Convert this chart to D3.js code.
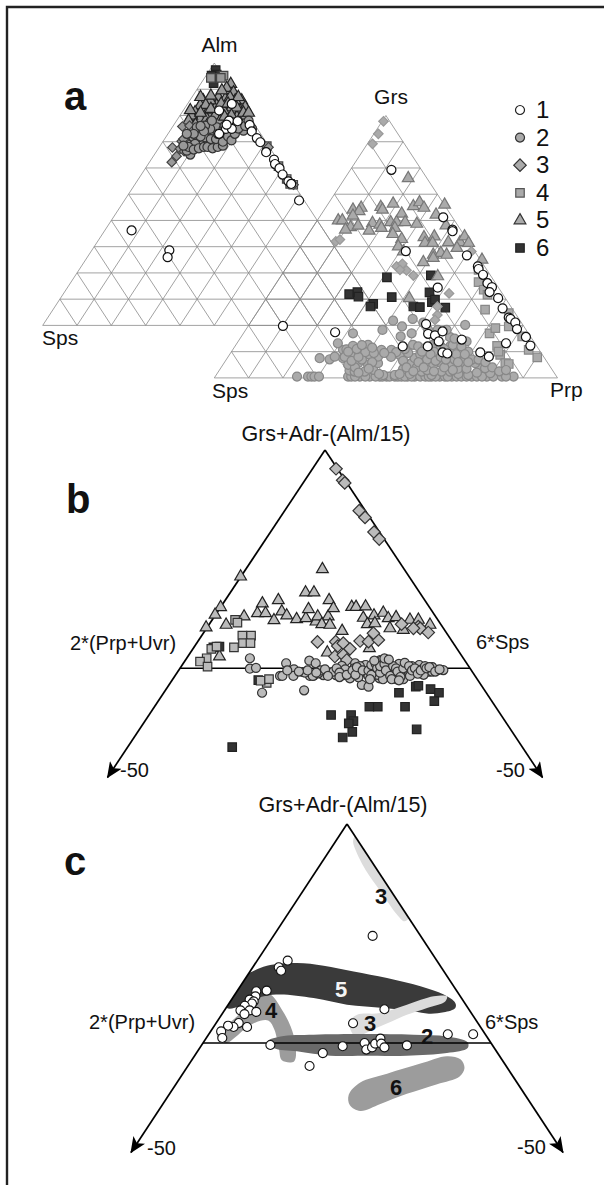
<!DOCTYPE html>
<html>
<head>
<meta charset="utf-8">
<script src="https://cdn.jsdelivr.net/npm/d3@7"></script>
<style>
	html, body { margin: 0; padding: 0; background: #fff; }
	svg { display: block; }
	text { font-family: "Liberation Sans", Arial, sans-serif; fill: #111; }
</style>
</head>
<body>
<div class="chart"></div>
<script>
// every point is [u, v]: v is the top component, u the position along the base (both 0-100)
var gridTicks = [10, 20, 30, 40, 50, 60, 70, 80, 90];
var legendLabels = ['1', '2', '3', '4', '5', '6'];

// panel a, Alm triangle
var almS1 = [[51.4,81.9],[55.1,84.4],[54.3,78],[56.8,77.8],[53.4,74.9],[55.1,74.9],[51.4,73],[53.6,76.5],[60.3,76.4],[60.9,73.9],[62.4,71.4],[63.4,69.8],[65.1,66],[67.4,63.2],[67.7,61.5],[69,59.9],[69.9,57.5],[71.6,54.9],[72.4,53.9],[74.7,47.6],[25.9,36.2],[36.9,28.6],[36.4,26]];
var almS2 = [[43,65.1],[42,66.6],[44.9,75.5],[43.9,71.7],[45.9,69.2],[46.8,70.4],[48.3,69.2],[49.3,69.8],[46.4,73],[47.8,73.6],[49.8,72.3],[51.7,69.2],[50.7,75.5],[48.8,74.9],[45.4,71.7],[47.3,76.1],[49.3,78],[52.2,72.3],[53.6,71.1],[51.2,71.1],[52.7,74.9],[54.6,73.6],[55.6,77.4],[58,74.9],[58.5,74.2],[47.3,71.7],[44.4,69.2],[50.5,69.5],
	[42.5,68],[44,67],[45.5,67.5],[47,68],[48,68],[49.5,67.5],[51,68],[52.5,68.5],[46,72],[49,71],[50.5,71],[52.5,70],[54,72],[55,70.5],[56,73],[57,75],[59,76],[60,78],[61,75],[47,74],[51,73],[53,76],[46,76],[44,73],[42,73],[41,68.5]];
var almS3 = [[40.7,75.8],[42.8,76.1],[37.6,62.2],[37.8,67.8],[40.5,70.2],[42,71.7],[40,67.3],[41.2,66.4],[44.9,73.6],[43.9,69.2],[73.1,53.6],[65.8,67.9],[39,64.5],[43,72],[41,71],[44,74.5]];
var almS4 = [[52.7,95.2],[51.9,94.3],[49,94.3],[65.3,68.3],[72.1,53.9],[68.7,60.7],[71.1,55.8],[73,53.6]];
var almS5 = [[54.8,92],[53.6,90.5],[55.6,88.8],[51.2,86.9],[53.2,86.3],[58,85.7],[56.1,85.7],[46.8,85.7],[50.7,83.8],[45.9,83.8],[44.4,81.2],[48.3,81.9],[50.2,79.9],[43.9,79.3],[45.9,78.7],[57.5,81.9],[59,79.9],[55.1,83.1],[52.7,81.9],[47.8,78.7],[52.2,89.5],[54.6,86.9],[59,83.1],[43.4,79.9],[48.8,85.7],[51.7,78],[56.6,79.3],
	[46,87],[47.5,84],[43,82],[42.5,78],[49,87.5],[52,84.5],[54,84.5],[56.5,83],[57,87],[58.5,81],[60,81],[55,80],[53,79.5],[49,82.5],[46,81],[48,76.5],[44.5,76.5]];
var almS6 = [[50.4,97.3],[49.8,94.3],[50.7,95.6],[49.8,92.3],[49.2,95.2]];

// panel a, Grs triangle
var grsS1 = [[51.6,79.3],[66.7,61.2],[69.4,56.5],[69.4,55.9],[55.8,48.3],[73.6,46.7],[76.8,42.5],[77,41.5],[78.3,39.3],[79.6,36.1],[80.9,34.6],[80.2,32.7],[82.7,30.4],[84,26.5],[85.8,23],[86.3,22.5],[87.7,21.1],[88.2,18.6],[90.8,15.6],[92.1,12.3],[85,13.2],[77.5,9.7],[80,8.1],[65.1,34.4],[61.7,20.5],[62.3,16.8],[64.3,16.2],[66.5,17.7],[65.4,13.9],[62.2,12],[72.1,14.6],[66.5,9.7],[67.9,9.3],[54.9,12],[35.2,17.4],[20,19.8]];
var grsS2 = [[24.1,0.5],[27.3,0.5],[28.3,0.5],[29.2,0.5],[30.5,0.5],[39,0.5],[39.9,0.5],[42.4,0.5],[45.3,0.5],[48.2,0.5],[50.2,0.5],[51.1,0.5],[52.6,0.5],[56.3,0.5],[58.4,0.5],[63.3,0.5],[65.7,0.5],[67.2,0.5],[69.2,0.5],[70.6,0.5],[75,0.5],[79.4,0.5],[81.3,0.5],[83.8,0.5],[87.2,0.5],
	[41,0.5],[44,0.5],[47,0.5],[49,0.5],[53.5,0.5],[54.5,0.5],[55.5,0.5],[57.5,0.5],[60,0.5],[61.5,0.5],[62.5,0.5],[64.5,0.5],[68,0.5],[72,0.5],[73.5,0.5],[76.5,0.5],[78,0.5],[85,0.5],
	[39.4,2.8],[40.9,2.4],[43.8,2.4],[46.3,3.1],[49.2,1.1],[52.6,1.1],[55,3.3],[60.4,2.4],[63.3,1.1],[66.2,2.4],[68.7,2.4],[71.1,1.5],[74,1.1],
	[37.5,7.5],[39,5],[41.9,5.6],[44.8,5],[47.7,5.6],[57.5,5.6],[60.4,6.2],[63.8,5],[66.2,5.6],[69.2,5],[72.1,4.3],[77.4,3.7],[80.4,1.8],
	[30.7,7.5],[33.6,7.1],[35.1,8.1],[37.5,10.7],[39.9,8.8],[42.4,9.4],[45.3,8.8],[47.7,8.1],[50.6,9.4],[54,8.8],[58.4,7.5],[61.4,8.1],[65.3,7.5],[68.7,8.8],[72.6,7.5],[76,5.6],[78.9,3.7],
	[36,13.2],[38.5,10.9],[40.4,12.2],[44.8,12.6],[48.7,10.7],[51.6,10.7],[57.9,12.6],[59.4,12],[61.4,11.3],[63.8,12.6],[68.7,12],[70.1,11.3],[73.5,13.9],[74,10],
	[52.1,21.8],[54.7,19.6],[57.8,22.5],[60.9,21.1],[49,18.3],[40.4,17],[54.3,15.8],[57.5,17],[65.1,18.3],[73.1,20.2],[68.7,15.5],[62.3,18.3],[67.7,18.3],
	[41,4],[43,7],[46,6],[55,6.5],[57,1.5],[59,4],[62,3],[64,2.5],[65,9],[67,4],[68,9.5],[70,7],[71,3.5],[44,9.8],[38,8],[42,2],[48,1.5],[53,9.8],[60,9],[62,7],[70,10],[72,9.5],[75,7],[66,12],[64,10],
	[40,6.5],[42,8],[45,3.5],[46.5,9.5],[51.5,8],[54,1.5],[56,4],[56.5,9.5],[58,2.5],[59.5,6],[61,4],[63,9],[64.5,6.5],[66,8],[67.5,7],[69.5,3],[70.5,9],[73.5,3.5],[74,6],[39,10],[41.5,11],[43,12.5],[46,11.5],[49.5,9.5],[55.5,11],[60.5,10],[67,11],[69.5,12.5],[72,12],[65,14],[70,15],[76.5,2],[73,9],[71,6],[77,7],[79,6],[81,4],[83,2.5],[85,3]];
var grsS3 = [[49.3,97.8],[47.8,93],[46.1,89.2],[35.4,52],[36.6,52.7],[53.1,42.5],[54.8,43.5],[56,41],[58,39],[54.1,41.2],[68.4,32.2],[65,24],[64.3,22.1],[65,27.2],[74.9,48.2]];
var grsS4 = [[77,36.5],[78.5,33.6],[79.6,31.7],[78.9,26],[85.8,24.7],[85.8,19.6],[80.2,17],[81.9,19],[82.4,12.2],[83.3,8.8],[84.8,5.6],[85.8,5.3],[94.1,7.8],[91.6,10.7],[89.7,15.8],[77,41.2],[82.8,10]];
var grsS5 = [[56.5,76.1],[40.4,64.1],[42.8,64.8],[42.2,63.5],[40.4,61.8],[36.1,60],[37.3,60],[39.7,57.4],[38.2,56.5],[41.9,58],[48.5,65.1],[49,64.1],[52.1,66.4],[54.6,62.6],[58,65.4],[59.8,66.9],[61.1,64.8],[67.1,66],[64.6,62.2],[67.5,58.1],[46.1,59],[48.2,58.4],[45.1,56.1],[48.7,57.1],[51.4,59.3],[53.1,59.3],[55.6,59.3],[52.6,57.1],[52,54.8],[59,58.7],[54.6,52.9],[53.6,50.1],[55.1,48.2],[61.1,53.6],[64.1,53.9],[61.4,51.4],[63.6,51.4],[68.2,51.7],[71.6,51.7],[72.9,53.9],[74.1,51.4],[63.8,46.9],[66,47.6],[67.7,46.9],[60.9,44.1],[63.8,45.7],[78,45],[65.1,38.7],[56.8,30.4],[70.7,49.5]];
var grsS6 = [[50.3,38.3],[39.3,31.9],[41.7,32.7],[42,31],[51.7,30.8],[46.3,28.2],[45.5,27.2],[58,27.2],[59.9,27],[63.1,39.1],[62.7,32.6],[63.4,28.9],[64.3,29.8],[67.3,26.8]];

// panel b
var discS2 = [[24.1,4.6],[24.1,-0.2],[26.2,0.2],[28.3,-11.2],[42.8,-10.1],[36.6,2.3],[44.6,3.5],[46.8,2.3],[34.5,-3.5],[35.3,-3.5],[39.3,-0.5],[39.1,-3.5],[42.5,-1.8],[44.8,-3.5],[46,-3.5],
	[43.1,-2],[45.8,-3.5],[49.4,-3.1],[51.5,-2.3],[53.8,-3.1],[56.3,-3.1],[58.6,-2],[60.4,2.3],[63.2,1.1],[62.1,-2.3],[63.8,-1.5],[66.7,0],[69,3.8],[70.1,0],[71.9,2.6],[71.9,-2.3],[74.2,-2.3],[75.5,2],[78.2,0.8],[78.8,-1.5],[77,-5],[81.6,-2],[82.5,1.5],[85.7,-1.5],[88.8,-0.8],[90.8,-0.8],[62.7,-7.6],[65,-8.4],[68.8,-4.6],[71.9,-3.8],[55.8,1.1],[58.6,-4.6],[69.6,3.8],[74.7,-5],[83.9,0],[86.8,-1.5],[79.3,-3.5],[61.5,-4.1],[47.7,-2.3],[52.9,-1.5],
	[60,0],[65,-3.5],[67,-1.5],[73,0],[76,-3],[80,1],[84,-3],[87,0.5],[57,-0.5],[54,0],[68,-3],[70,-5],[64,1.5],[72,0.5],[62,1],
	[44,-1],[48.5,-1],[50,-0.5],[51,-3.5],[55,-2],[55,-4],[57.5,-3],[59.5,-1],[60.5,-3],[61,0.5],[63,-1],[65,-1],[66,1.5],[66,-3],[67.5,2],[68,0],[69,-2],[69,1],[70.5,2],[71,-1],[72.5,-3.5],[73.5,1],[74.5,0],[75,-1.5],[76,-4],[77,0],[77.5,2.5],[79,1],[80,-1],[81,0],[82,-2.5],[83,-1],[84.5,1],[85,0],[86,0.5],[88,-1.5],[89.5,-0.5],[67,3.5],[70.5,4.5],[72,4],[73,-5],[75.5,-5.5],[65.5,-5],[47,-2],[41,-1.5],[37,-1]];
var discS3 = [[53.8,91.4],[56.1,86.1],[56.8,84.9],[61.8,72.2],[63.8,69.1],[66.9,62.4],[68.7,59.2],[47.4,12.1],[53.7,12.2],[54.4,10.2],[56.3,11.5],[58.6,8.9],[53.4,5.4],[56.3,6.1],[62.1,12.5],[65,12.2],[68.4,13],[66.7,16.1],[76.4,20.2],[82.2,19.1],[82.8,18.3],[85.6,16.4],[80.5,18.3],[57.5,3.8]];
var discS4 = [[19,22.2],[19.8,20.9],[21.5,15],[24.5,15],[21.7,11.5],[24.3,11.5],[18.6,9.6],[10.8,8.9],[12.6,9.9],[9.2,4.6],[6.9,3.1],[9.5,0.8],[29.9,-6.7],[27.8,-5.7],[30.7,-5]];
var discS5 = [[20.9,42],[49.1,45.4],[43.3,34.7],[46.2,34.7],[33.9,31.2],[51.4,31.2],[28.4,29.7],[14,28],[12.1,24.5],[9,18.7],[22.1,23.7],[15.9,19.9],[26.7,25.2],[29.5,25.2],[32.4,22],[35.1,26],[36.8,24.2],[40.2,22.5],[43.4,22.9],[44.3,27.1],[46.9,21.4],[47.5,23.7],[51.1,23.7],[48.9,20.2],[51.7,19.9],[52.9,27.5],[55.9,17.1],[59.2,28.1],[60.7,28.1],[64,28.3],[63.2,23.1],[66.9,24.2],[64.6,20.2],[70.1,25.4],[71.8,22.9],[74.5,23.4],[72.4,18.3],[77,17.6],[79.3,22.2],[82.2,22.2],[65.3,9.2],[50.8,7.2],[86.2,19.9],[67.2,20.6],[13.6,5.4]];
var discS6 = [[18,-36.1],[52.1,-21.4],[59,-21.4],[59.8,-24.2],[58.2,-25.2],[59.4,-29.1],[56.1,-31.7],[65.3,-17.6],[68.2,-17.6],[77.6,-17.6],[75.5,-11.2],[81.3,-8.4],[82.2,-8],[86.4,-9.5],[89.3,-11.2],[87.7,-15],[81.6,-28],[11.5,9.6],[13.6,9.9],[27,-5.4]];

// panel c
var fieldS1 = [[58.9,48.9],[29.4,37.6],[26.3,34.6],[27.1,33],[22.1,23.9],[18.5,23.6],[18.2,21.3],[16.2,19.8],[17.6,19],[17,18],[14.5,17],[13,14.9],[16.2,14.9],[18.5,14.2],[14.4,13.2],[12.4,9.1],[10.6,7.3],[8.7,7.9],[15.3,7.3],[6.3,5.3],[6.7,2.3],[63,15.4],[52.1,9],[23.4,-0.9],[41.6,-4.6],[37,-10.5],[48.5,-1.5],[56.1,0],[56.7,-3],[58.7,-2],[59.8,-0.3],[61.6,2],[61.9,-0.3],[63,-2],[70.8,-1.1],[85,4],[93.8,4]];
var outline3top = [[52.9,94.4],[59.3,81.4],[66.2,67.7],[71.4,57.1],[69.9,55.6],[67.4,58.6],[61.6,69.3],[56.4,79.1],[52.9,88.3],[52.1,92.1]];
var outline5 = [[15.9,32],[22.2,35.3],[32.6,36.5],[41.9,35.3],[52.3,32.7],[63.9,29.7],[75.5,25.9],[83.6,22.1],[87.6,18.3],[87.6,16],[83.6,14],[78.4,13.4],[73.1,14.5],[62.7,16],[50,17.5],[38.4,20.5],[26.9,22.1],[21.1,21.3],[8.3,16],[9.5,28.9]];
var outline3mid = [[84.7,21.3],[84.1,19],[77.8,16],[70.8,12.9],[61.6,7.6],[52.9,3.3],[51.2,6.1],[50.9,9.9],[53.5,12.9],[61.6,13.7],[70.8,17.5],[80.1,21.3]];
var outline4 = [[4.9,4.6],[10.6,10.7],[15.3,16.7],[20.5,22.1],[23.4,22.1],[27.4,15.2],[30.4,7.6],[32.2,-1.5],[31.6,-8.4],[27.4,-7.9],[26.4,-3],[24.8,6.1],[22.8,10.2],[19.9,10.2],[15.3,7.2],[11.2,2.6],[8.3,0],[5.4,1.5]];
var outline2 = [[22.5,0.8],[26.9,3],[38.4,3.8],[55.8,4.1],[73.1,3.8],[84.7,3],[91.9,0.3],[91.9,-2.3],[84.7,-4.6],[70.8,-5.8],[55.8,-5.8],[44.2,-5.8],[32.6,-3.8],[24.5,-2.3]];
var outline6 = [[50.6,-23.6],[54.6,-18],[63.9,-14],[75.5,-9.4],[84.7,-6],[89.4,-7.4],[90.8,-11.4],[89,-15.4],[81.3,-18.8],[70.8,-23.2],[61.6,-27.8],[54.6,-31],[51,-28.4]];

(function(window, document, undefined) {

	'use strict';

	var svg;

	function init() {
		svg = d3.select('.chart').append('svg')
			.attr('width', 604)
			.attr('height', 1185);

		svg.append('defs').append('marker')
			.attr('id', 'arrow')
			.attr('viewBox', '-15 -7 17 14')
			.attr('refX', 0)
			.attr('refY', 0)
			.attr('markerUnits', 'userSpaceOnUse')
			.attr('markerWidth', 17)
			.attr('markerHeight', 14)
			.attr('orient', 'auto')
			.append('path')
			.attr('d', 'M1,0L-15,-7L-11,0L-15,7Z')
			.attr('fill', '#000');

		svg.append('path')
			.attr('d', 'M7,1185V7H604')
			.attr('fill', 'none')
			.attr('stroke', '#222')
			.attr('stroke-width', 2.4);

		renderPanelA();
		renderPanelB();
		renderPanelC();

		label('a', 64, 110, 40, 'bold');
		label('b', 66, 513, 40, 'bold');
		label('c', 64, 875, 40, 'bold');
	}

	function makeScales(x0, x1, yBase, yApex) {
		return {
			x: d3.scaleLinear().domain([0, 100]).range([x0, x1]),
			y: d3.scaleLinear().domain([0, 100]).range([yBase, yApex])
		};
	}

	function label(str, x, y, size, weight, anchor, color) {
		svg.append('text')
			.text(str)
			.attr('x', x)
			.attr('y', y)
			.attr('font-size', size)
			.attr('font-weight', weight || 'normal')
			.attr('text-anchor', anchor || 'start')
			.style('fill', color || '#111');
	}

	function drawGrid(s) {
		var segs = [];
		gridTicks.forEach(function(t) {
			segs.push([[t / 2, t], [100 - t / 2, t]]);
			segs.push([[t, 0], [t / 2, t]]);
			segs.push([[t, 0], [50 + t / 2, 100 - t]]);
		});
		segs.push([[0, 0], [100, 0]], [[0, 0], [50, 100]], [[100, 0], [50, 100]]);
		var line = d3.line().x(function(d) { return s.x(d[0]); }).y(function(d) { return s.y(d[1]); });
		svg.append('g').selectAll('path')
			.data(segs)
			.enter()
			.append('path')
			.attr('d', line)
			.attr('fill', 'none')
			.attr('stroke', '#8a8a8a')
			.attr('stroke-width', 0.8);
	}

	// kinds: 1,2 circle / 3 diamond / 4,6 square / 5 triangle
	function symbolPath(kind, k) {
		if (kind === 1 || kind === 2) return d3.symbol(d3.symbolCircle, 64 * k)();
		if (kind === 3) return d3.symbol(d3.symbolSquare, 78 * k)();
		if (kind === 5) return d3.symbol(d3.symbolTriangle, 60 * k)();
		return d3.symbol(d3.symbolSquare, 72 * k)();
	}

	function drawPoints(s, data, kind, style, k) {
		svg.append('g').selectAll('path')
			.data(data)
			.enter()
			.append('path')
			.attr('d', symbolPath(kind, k || 1))
			.attr('transform', function(d) {
				return 'translate(' + s.x(d[0]) + ',' + s.y(d[1]) + ')' + (kind === 3 ? ' rotate(45)' : '');
			})
			.attr('fill', style[kind].fill)
			.attr('stroke', style[kind].stroke)
			.attr('stroke-width', style[kind].width || 1.2);
	}

	function renderPanelA() {
		// both triangles share one lattice, the rows and columns coincide where they overlap
		var almS = makeScales(42.7, 385.9, 325.4, 63);
		var grsS = makeScales(214.3, 557.5, 377.9, 115.5);
		drawGrid(almS);
		drawGrid(grsS);

		var dark = {
			1: { fill: '#fff', stroke: '#111' }, 2: { fill: '#999', stroke: '#333' }, 3: { fill: '#999', stroke: '#444' },
			4: { fill: '#999', stroke: '#444' }, 5: { fill: '#999', stroke: '#222' }, 6: { fill: '#333', stroke: '#222' }
		};
		var pale = {
			1: { fill: '#fff', stroke: '#111' }, 2: { fill: '#aaa', stroke: '#888' }, 3: { fill: '#aaa', stroke: '#999' },
			4: { fill: '#aaa', stroke: '#888' }, 5: { fill: '#aaa', stroke: '#777' }, 6: { fill: '#333', stroke: '#222' }
		};
		[almS6, almS5, almS4, almS3, almS2, almS1].forEach(function(d, i) {
			drawPoints(almS, d, 6 - i, dark, 6 - i === 3 ? 0.58 : 1);
		});
		[grsS6, grsS5, grsS4, grsS3, grsS2, grsS1].forEach(function(d, i) {
			drawPoints(grsS, d, 6 - i, pale, 6 - i === 3 ? 0.58 : 1);
		});

		label('Alm', 219.5, 52, 21, 'normal', 'middle');
		label('Sps', 42, 345, 21);
		label('Grs', 391, 104, 21, 'normal', 'middle');
		label('Sps', 212, 398, 21);
		label('Prp', 550, 397, 21);

		// legend
		var legendY = d3.scalePoint().domain(legendLabels).range([110, 248]);
		var legendStyle = {
			1: { fill: '#fff', stroke: '#222' }, 2: { fill: '#aaa', stroke: '#333' }, 3: { fill: '#aaa', stroke: '#333' },
			4: { fill: '#aaa', stroke: '#555' }, 5: { fill: '#aaa', stroke: '#333' }, 6: { fill: '#333', stroke: '#222' }
		};
		legendLabels.forEach(function(l) {
			var n = +l;
			svg.append('path')
				.attr('d', symbolPath(n, 1))
				.attr('transform', 'translate(520,' + legendY(l) + ')' + (n === 3 ? ' rotate(45)' : ''))
				.attr('fill', legendStyle[n].fill)
				.attr('stroke', legendStyle[n].stroke)
				.attr('stroke-width', 1.2);
			label(l, 536, legendY(l) + 8, 24);
		});
	}

	function drawFrame(s) {
		var line = d3.line().x(function(d) { return s.x(d[0]); }).y(function(d) { return s.y(d[1]); });
		// the sides run on past the base, down to -50
		[[[50, 100], [-25, -50]], [[50, 100], [125, -50]]].forEach(function(seg) {
			svg.append('path')
				.attr('d', line(seg))
				.attr('fill', 'none')
				.attr('stroke', '#000')
				.attr('stroke-width', 1.7)
				.attr('marker-end', 'url(#arrow)');
		});
		svg.append('path')
			.attr('d', line([[0, 0], [100, 0]]))
			.attr('fill', 'none')
			.attr('stroke', '#000')
			.attr('stroke-width', 1.5);
	}

	function renderPanelB() {
		var s = makeScales(180, 470, 668.3, 450);
		drawFrame(s);
		var style = {
			2: { fill: '#bbb', stroke: '#333' }, 3: { fill: '#bbb', stroke: '#333' }, 4: { fill: '#bbb', stroke: '#333' },
			5: { fill: '#bbb', stroke: '#222' }, 6: { fill: '#333', stroke: '#222' }
		};
		[discS6, discS5, discS4, discS3, discS2].forEach(function(d, i) { drawPoints(s, d, 6 - i, style); });
		label('Grs+Adr-(Alm/15)', 326, 441, 21.5, 'normal', 'middle');
		label('2*(Prp+Uvr)', 70, 650, 20);
		label('6*Sps', 476, 649, 20);
		label('-50', 120, 777, 20);
		label('-50', 496, 777, 20);
	}

	function renderPanelC() {
		var s = makeScales(203, 491, 1043, 824);
		var blob = d3.line()
			.x(function(d) { return s.x(d[0]); })
			.y(function(d) { return s.y(d[1]); })
			.curve(d3.curveCatmullRomClosed.alpha(0.5));
		var tri = d3.line().x(function(d) { return s.x(d[0]); }).y(function(d) { return s.y(d[1]); });

		svg.select('defs').append('clipPath')
			.attr('id', 'inside')
			.append('path')
			.attr('d', tri([[50, 100], [-25, -50], [125, -50]]) + 'Z');

		var blobs = [
			{ d: outline3top, fill: '#dcdcdc' },
			{ d: outline6, fill: '#9c9c9c' },
			{ d: outline4, fill: '#9c9c9c' },
			{ d: outline5, fill: '#3a3a3a' },
			{ d: outline3mid, fill: '#dcdcdc' },
			{ d: outline2, fill: '#6a6a6a' }
		];
		svg.append('g')
			.attr('clip-path', 'url(#inside)')
			.selectAll('path')
			.data(blobs)
			.enter()
			.append('path')
			.attr('d', function(b) { return blob(b.d); })
			.attr('fill', function(b) { return b.fill; });

		drawFrame(s);

		label('3', 381, 904, 22, 'bold', 'middle');
		label('5', 341, 997, 22, 'bold', 'middle', '#f4f4f4');
		label('4', 271, 1018, 22, 'bold', 'middle');
		label('3', 370, 1031, 22, 'bold', 'middle');
		label('2', 427, 1044, 22, 'bold', 'middle');
		label('6', 396, 1095, 22, 'bold', 'middle');

		drawPoints(s, fieldS1, 1, { 1: { fill: '#fff', stroke: '#111', width: 1.1 } }, 1);

		label('Grs+Adr-(Alm/15)', 343, 812, 21.5, 'normal', 'middle');
		label('2*(Prp+Uvr)', 89, 1029, 20);
		label('6*Sps', 485, 1029, 20);
		label('-50', 147, 1155, 20);
		label('-50', 517, 1154, 20);
	}

	init();

})(window, document);
</script>
</body>
</html>
